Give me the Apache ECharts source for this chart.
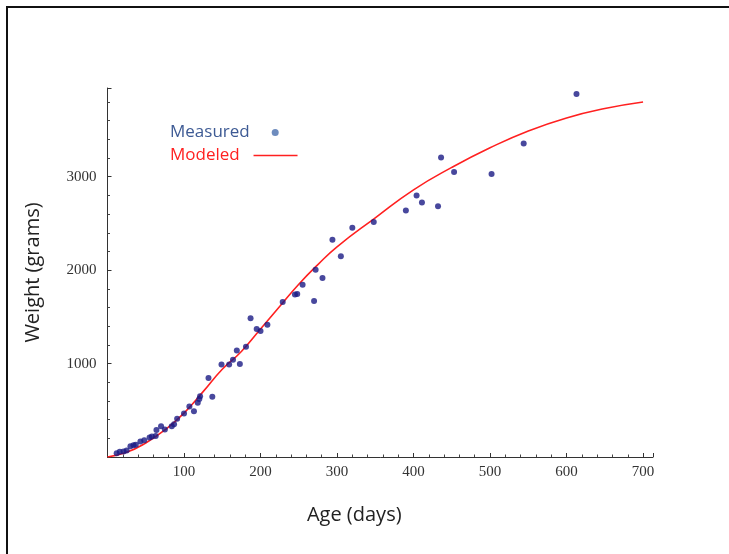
<!DOCTYPE html>
<html>
<head>
<meta charset="utf-8">
<script src="https://cdn.jsdelivr.net/npm/echarts@6/dist/echarts.min.js"></script>
<style>
  html, body { margin: 0; padding: 0; background: #fff; }
  #chart { width: 729px; height: 554px; }
</style>
</head>
<body>
<div id="chart"></div>
<script>
// measured points
var measuredAge = [12, 16, 21, 25, 30, 34, 37, 43, 48, 55, 58, 63, 64, 70, 75, 84, 87, 91, 100, 107,
  113, 118, 120, 121, 132, 137, 149, 159, 164, 169, 173, 181, 187, 195, 200, 209, 229, 245, 248, 255,
  270, 272, 281, 294, 305, 320, 348, 390, 404, 411, 432, 436, 453, 502, 544, 613]
var measuredWeight = [40, 55, 60, 70, 115, 125, 130, 165, 180, 210, 220, 225, 290, 330, 295, 330, 350, 410, 465, 540,
  490, 580, 620, 650, 845, 645, 990, 990, 1040, 1140, 995, 1180, 1485, 1370, 1350, 1415, 1660, 1740, 1745, 1845,
  1670, 2005, 1915, 2325, 2150, 2455, 2515, 2640, 2800, 2725, 2685, 3205, 3050, 3030, 3355, 3887]

// modeled curve, sampled along the red line
var modelAge = [0, 25, 50, 75, 100, 125, 150, 175, 200, 225, 250, 275, 300, 350, 400, 450, 500, 550, 600, 650, 700]
var modelWeight = [0, 50, 150, 290, 470, 700, 940, 1130, 1370, 1610, 1850, 2060, 2250, 2560, 2860, 3100, 3310, 3490, 3630, 3730, 3800]

var xTicks = [100, 200, 300, 400, 500, 600, 700]
var yTicks = [1000, 2000, 3000]

var chart = echarts.init(document.getElementById('chart'))

var tickFont = { fontFamily: 'Liberation Serif', fontSize: 15, color: '#333' }

chart.setOption({
  animation: false,
  graphic: [{
    type: 'rect',
    shape: { x: 7, y: 7, width: 800, height: 600 },
    style: { fill: 'none', stroke: '#111', lineWidth: 2 },
    silent: true
  }],
  grid: { left: 107.5, right: 76, top: 88, bottom: 97 },
  legend: [{
    data: [{ name: 'Measured', icon: 'circle', itemStyle: { color: '#4a6fae' } }],
    align: 'right',
    left: 170,
    top: 124,
    padding: 0,
    itemWidth: 41,
    itemHeight: 7,
    textStyle: { fontFamily: 'Open Sans', fontSize: 17, color: '#3d5a94' }
  }, {
    data: [{ name: 'Modeled', icon: 'rect', itemStyle: { color: '#ff2020' } }],
    align: 'right',
    left: 170,
    top: 147,
    padding: 0,
    itemWidth: 44,
    itemHeight: 1.6,
    formatter: function(name) {
      return name + '  '
    },
    textStyle: { fontFamily: 'Open Sans', fontSize: 17, color: '#ff2020' }
  }],
  xAxis: {
    type: 'value',
    min: 0,
    max: 713,
    interval: 100,
    name: 'Age (days)',
    nameLocation: 'middle',
    nameGap: 48,
    nameTextStyle: { fontFamily: 'Open Sans', fontSize: 20, color: '#222', padding: [0, 52, 0, 0] },
    axisLine: { lineStyle: { color: '#333', width: 1 } },
    axisTick: { inside: true, length: 4, lineStyle: { color: '#333' } },
    minorTick: { show: true, splitNumber: 5, length: 2.5, lineStyle: { color: '#444' } },
    splitLine: { show: false },
    axisLabel: Object.assign({
      margin: 8,
      showMaxLabel: false,
      formatter: function(v) {
        return xTicks.indexOf(v) >= 0 ? String(v) : ''
      }
    }, tickFont)
  },
  yAxis: {
    type: 'value',
    min: 0,
    max: 3950,
    interval: 1000,
    name: 'Weight (grams)',
    nameLocation: 'middle',
    nameGap: 64,
    nameTextStyle: { fontFamily: 'Open Sans', fontSize: 20, color: '#222' },
    axisLine: { show: true, lineStyle: { color: '#333', width: 1 } },
    axisTick: { show: true, inside: true, length: 4, lineStyle: { color: '#333' } },
    minorTick: { show: true, splitNumber: 5, length: 2.5, lineStyle: { color: '#444' } },
    splitLine: { show: false },
    axisLabel: Object.assign({
      margin: 11,
      showMaxLabel: false,
      formatter: function(v) {
        return yTicks.indexOf(v) >= 0 ? String(v) : ''
      }
    }, tickFont)
  },
  series: [{
    name: 'Modeled',
    type: 'line',
    smooth: true,
    symbol: 'none',
    z: 2,
    lineStyle: { color: '#ff2020', width: 1.6 },
    itemStyle: { color: '#ff2020' },
    data: modelAge.map(function(a, i) { return [a, modelWeight[i]] })
  }, {
    name: 'Measured',
    type: 'scatter',
    symbol: 'circle',
    symbolSize: 6,
    z: 3,
    itemStyle: { color: '#1a1a84' },
    data: measuredAge.map(function(a, i) { return [a, measuredWeight[i]] })
  }]
})
</script>
</body>
</html>
